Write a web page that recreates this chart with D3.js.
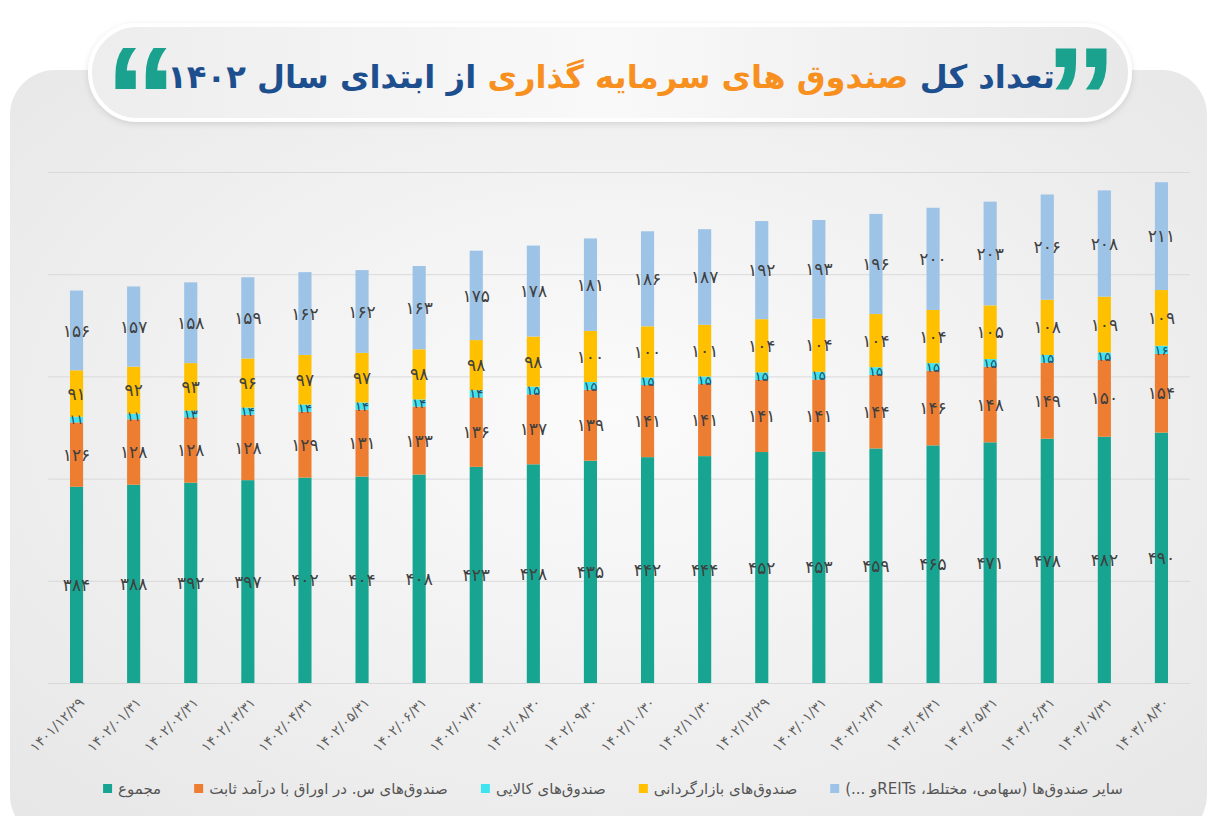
<!DOCTYPE html>
<html>
<head>
<meta charset="utf-8">
<script src="https://cdn.jsdelivr.net/npm/d3@7"></script>
<style>
  body { margin: 0; background: #fff; }
  svg { display: block; }
</style>
</head>
<body>
<svg id="chart" width="1217" height="816"></svg>
<script>
// data
const dates = ['1401/12/29', '1402/01/31', '1402/02/31', '1402/03/31', '1402/04/31', '1402/05/31',
  '1402/06/31', '1402/07/30', '1402/08/30', '1402/09/30', '1402/10/30', '1402/11/30', '1402/12/29',
  '1403/01/31', '1403/02/31', '1403/04/31', '1403/05/31', '1403/06/31', '1403/07/31', '1403/08/30'];
const totalFunds = [384, 388, 392, 397, 402, 404, 408, 423, 428, 435, 442, 444, 452, 453, 459, 465, 471, 478, 482, 490];
const fixedIncome = [126, 128, 128, 128, 129, 131, 133, 136, 137, 139, 141, 141, 141, 141, 144, 146, 148, 149, 150, 154];
const commodity = [11, 11, 13, 14, 14, 14, 14, 14, 15, 15, 15, 15, 15, 15, 15, 15, 15, 15, 15, 16];
const marketMaking = [91, 92, 93, 96, 97, 97, 98, 98, 98, 100, 100, 101, 104, 104, 104, 104, 105, 108, 109, 109];
const otherFunds = [156, 157, 158, 159, 162, 162, 163, 175, 178, 181, 186, 187, 192, 193, 196, 200, 203, 206, 208, 211];
const seriesNames = ['مجموع', 'صندوق‌های س. در اوراق با درآمد ثابت', 'صندوق‌های کالایی', 'صندوق‌های بازارگردانی', 'سایر صندوق‌ها (سهامی، مختلط، REITsو ...)'];
const yTicks = [0, 200, 400, 600, 800, 1000];

const keys = ['total', 'fixed', 'commodity', 'market', 'other'];
const colors = { total: '#17a591', fixed: '#ed7d31', commodity: '#3fe3ee', market: '#ffc000', other: '#9dc3e6' };

const fa = s => String(s).replace(/\d/g, d => '۰۱۲۳۴۵۶۷۸۹'[d]);
const faFont = '"DejaVu Sans", sans-serif';

const rows = dates.map((d, i) => ({
  date: d, total: totalFunds[i], fixed: fixedIncome[i], commodity: commodity[i],
  market: marketMaking[i], other: otherFunds[i]
}));

const svg = d3.select('#chart');
const defs = svg.append('defs');

const rg = defs.append('radialGradient').attr('id', 'panelGrad')
  .attr('cx', '50%').attr('cy', '45%').attr('r', '70%');
rg.append('stop').attr('offset', '0%').attr('stop-color', '#fbfbfb');
rg.append('stop').attr('offset', '100%').attr('stop-color', '#e7e7e7');

const pg = defs.append('linearGradient').attr('id', 'pillGrad').attr('x1', 0).attr('x2', 1).attr('y1', 0).attr('y2', 0);
pg.append('stop').attr('offset', '0%').attr('stop-color', '#ededed');
pg.append('stop').attr('offset', '50%').attr('stop-color', '#f9f9f9');
pg.append('stop').attr('offset', '100%').attr('stop-color', '#e8e8e8');

const sh = defs.append('filter').attr('id', 'shadow').attr('x', '-5%').attr('y', '-20%').attr('width', '110%').attr('height', '150%');
sh.append('feDropShadow').attr('dx', 0).attr('dy', 2).attr('stdDeviation', 3).attr('flood-color', '#000').attr('flood-opacity', 0.12);

// background panel
svg.append('rect')
  .attr('x', 10).attr('y', 70).attr('width', 1197).attr('height', 770).attr('rx', 45)
  .attr('fill', 'url(#panelGrad)');

// title pill
svg.append('rect')
  .attr('x', 90).attr('y', 25).attr('width', 1040).attr('height', 95).attr('rx', 47.5)
  .attr('fill', 'url(#pillGrad)').attr('stroke', '#fff').attr('stroke-width', 4)
  .attr('filter', 'url(#shadow)');

const title = svg.append('text')
  .attr('x', 611).attr('y', 88)
  .attr('direction', 'rtl').attr('text-anchor', 'middle')
  .style('font-family', faFont).style('font-weight', 'bold').style('font-size', '40px');
title.append('tspan').attr('fill', '#1d4f8f').text('تعداد کل ');
title.append('tspan').attr('fill', '#f7901e').text('صندوق های سرمایه گذاری ');
title.append('tspan').attr('fill', '#1d4f8f').text('از ابتدای سال ' + fa(1402));
const tl = title.node().getComputedTextLength();
title.style('font-size', (40 * 888 / tl) + 'px');

svg.append('text').attr('x', 141).attr('y', 148).attr('text-anchor', 'middle')
  .style('font-family', '"Liberation Sans", sans-serif').style('font-weight', 'bold').style('font-size', '145px')
  .attr('fill', '#1ba28f').text('“');
svg.append('text').attr('x', 1081).attr('y', 148).attr('text-anchor', 'middle')
  .style('font-family', '"Liberation Sans", sans-serif').style('font-weight', 'bold').style('font-size', '145px')
  .attr('fill', '#1ba28f').text('”');

// scales
const x = d3.scaleBand().domain(dates).range([48, 1190]).paddingInner(0.77).paddingOuter(0.385);
const y = d3.scaleLinear().domain([0, 1000]).range([683, 172]);

// gridlines
const grid = svg.append('g').attr('transform', 'translate(48,0)')
  .call(d3.axisLeft(y).tickValues(yTicks).tickSize(-(1190 - 48)).tickFormat(''));
grid.select('.domain').remove();
grid.selectAll('line').attr('stroke', '#d9d9d9').attr('stroke-width', 1);

// stacked bars
const stacked = d3.stack().keys(keys)(rows);

const layers = svg.append('g').selectAll('g')
  .data(stacked)
  .enter().append('g')
  .attr('fill', d => colors[d.key]);

layers.selectAll('rect')
  .data(d => d)
  .enter().append('rect')
  .attr('x', d => x(d.data.date))
  .attr('y', d => y(d[1]))
  .attr('width', x.bandwidth())
  .attr('height', d => y(d[0]) - y(d[1]));

// value labels
stacked.forEach(layer => {
  svg.append('g').selectAll('text')
    .data(layer)
    .enter().append('text')
    .attr('x', d => x(d.data.date) + x.bandwidth() / 2)
    .attr('y', d => (y(d[0]) + y(d[1])) / 2)
    .attr('dy', '0.36em')
    .attr('text-anchor', 'middle')
    .style('font-family', faFont)
    .style('font-size', layer.key === 'commodity' ? '13px' : '17px')
    .attr('fill', layer.key === 'commodity' ? '#2d4660' : '#3f3f3f')
    .text(d => fa(d.data[layer.key]));
});

// x axis
const xAxis = svg.append('g').attr('transform', 'translate(0,683)')
  .call(d3.axisBottom(x).tickSize(0).tickFormat(fa));
xAxis.select('.domain').remove();
xAxis.selectAll('text')
  .attr('x', 0).attr('y', 0).attr('dy', '0.35em')
  .attr('transform', 'translate(5,17) rotate(-45)')
  .attr('text-anchor', 'end')
  .style('font-family', faFont).style('font-size', '14px')
  .attr('fill', '#5f5f5f');

// legend, laid out right to left
const legend = svg.append('g');
const items = keys.map((k, i) => ({ key: k, name: seriesNames[i] })).reverse();
let cursor = 0;
const placed = [];
items.forEach(it => {
  const t = legend.append('text')
    .attr('y', 789).attr('dy', '0.35em')
    .attr('direction', 'rtl').attr('text-anchor', 'start')
    .style('font-family', faFont).style('font-size', '15px')
    .attr('fill', '#555').text(it.name);
  const w = t.node().getComputedTextLength();
  placed.push({ t, right: cursor, sq: cursor - w - 15, key: it.key });
  cursor = cursor - w - 15 - 33;
});
const left = placed[placed.length - 1].sq;
const off = 613 - left / 2;
placed.forEach(p => {
  p.t.attr('x', p.right + off);
  legend.append('rect').attr('x', p.sq + off).attr('y', 784).attr('width', 9).attr('height', 9)
    .attr('fill', colors[p.key]);
});
</script>
</body>
</html>
